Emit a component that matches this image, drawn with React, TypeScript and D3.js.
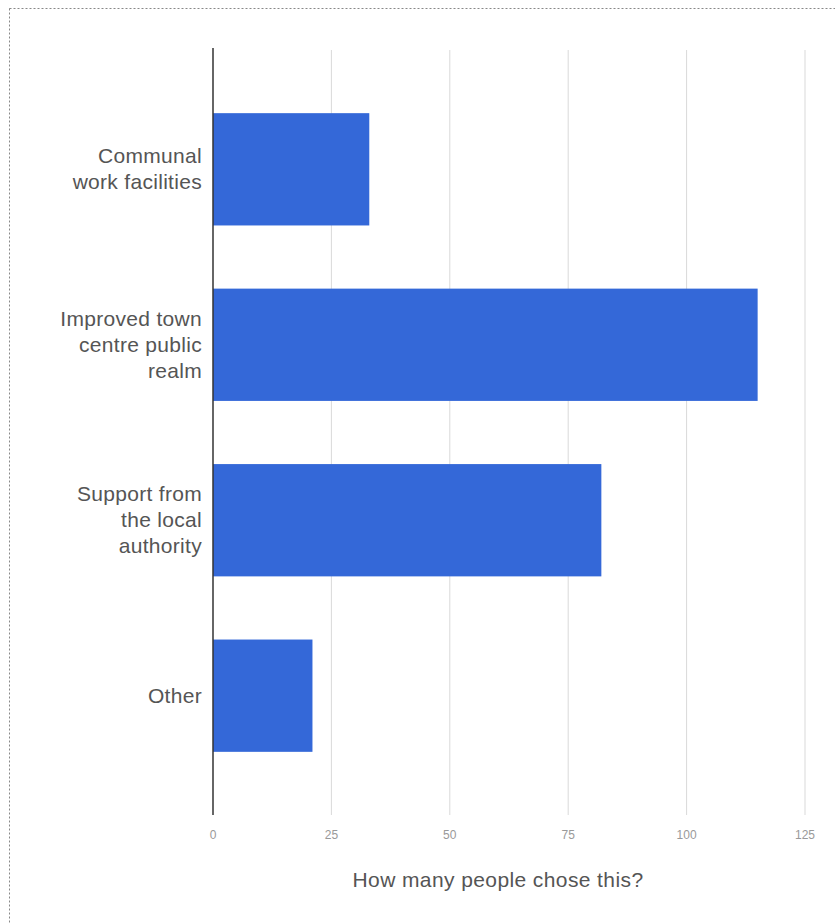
import React from "react";
import * as d3 from "d3";

const categories: string[][] = [
  ["Communal", "work facilities"],
  ["Improved town", "centre public", "realm"],
  ["Support from", "the local", "authority"],
  ["Other"],
];
const values: number[] = [33, 115, 82, 21];
const ticks: number[] = [0, 25, 50, 75, 100, 125];
const axisTitle = "How many people chose this?";

const W = 835;
const H = 924;

export default function App() {
  const x = d3.scaleLinear().domain([0, 125]).range([213, 805]);
  const keys = categories.map((c) => c.join(" "));
  const y = d3.scaleBand<string>().domain(keys).range([50, 815]).padding(0.36);
  const font = "'Liberation Sans', Arial, sans-serif";
  return (
    <svg
      width={W}
      height={H}
      style={{ position: "absolute", left: 0, top: 0, background: "#fff" }}
    >
      <rect
        x={9.5}
        y={8.5}
        width={W + 10}
        height={H + 10}
        fill="none"
        stroke="#888"
        strokeDasharray="2,2"
      />
      {ticks.slice(1).map((t) => (
        <line key={t} x1={x(t)} x2={x(t)} y1={50} y2={815} stroke="#d9d9d9" strokeWidth={1} />
      ))}
      {values.map((v, i) => (
        <rect
          key={i}
          x={x(0)}
          y={y(keys[i])!}
          width={x(v) - x(0)}
          height={y.bandwidth()}
          fill="#3468d8"
        />
      ))}
      <line x1={x(0)} x2={x(0)} y1={48} y2={815} stroke="#333" strokeWidth={1.5} />
      {ticks.map((t) => (
        <text
          key={t}
          x={x(t)}
          y={839}
          textAnchor="middle"
          fontFamily={font}
          fontSize={12}
          fill="#999"
        >
          {t}
        </text>
      ))}
      {categories.map((lines, i) => {
        const cy = y(keys[i])! + y.bandwidth() / 2;
        const lh = 26;
        const start = cy - ((lines.length - 1) * lh) / 2;
        return (
          <text
            key={i}
            textAnchor="end"
            fontFamily={font}
            fontSize={21}
            letterSpacing={0.3}
            fill="#555"
          >
            {lines.map((l, j) => (
              <tspan key={j} x={202} y={start + j * lh + 7}>
                {l}
              </tspan>
            ))}
          </text>
        );
      })}
      <text
        x={498}
        y={887}
        textAnchor="middle"
        fontFamily={font}
        fontSize={21}
        letterSpacing={0.4}
        fill="#555"
      >
        {axisTitle}
      </text>
    </svg>
  );
}
